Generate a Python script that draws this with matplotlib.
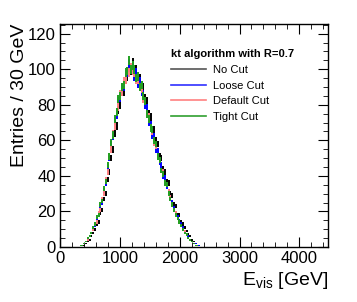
import numpy as np
import matplotlib
matplotlib.use('Agg')
import matplotlib.pyplot as plt
from matplotlib.lines import Line2D

plt.rcParams['font.family'] = ['Liberation Sans', 'DejaVu Sans']

# 30 GeV bins from 300 to 2400 GeV
bin_lo = 300
bin_w = 30

no_cut = [0, 0, 0, 1, 2, 3, 4, 6, 8, 10,
          13, 14, 19, 21, 27, 30, 38, 42, 50, 55,
          64, 68, 77, 80, 87, 87, 94, 96, 101, 99,
          104, 98, 100, 93, 95, 89, 90, 84, 82, 75,
          73, 66, 66, 60, 58, 51, 50, 44, 42, 37,
          36, 30, 29, 24, 23, 18, 18, 14, 13, 11,
          9, 7, 6, 4, 3, 2, 1, 1, 0, 0]
loose_cut = [0, 0, 1, 2, 3, 4, 6, 8, 10, 12,
             16, 18, 23, 25, 32, 36, 45, 50, 58, 62,
             71, 74, 82, 84, 90, 90, 97, 98, 103, 100,
             101, 96, 98, 92, 93, 87, 86, 80, 78, 70,
             69, 63, 62, 55, 54, 48, 46, 40, 39, 34,
             31, 28, 25, 22, 19, 17, 15, 13, 11, 9,
             7, 6, 4, 3, 2, 2, 1, 1, 0, 0]
default_cut = [0, 0, 1, 2, 3, 4, 6, 8, 10, 13,
               14, 19, 21, 27, 30, 38, 42, 51, 55, 64,
               68, 76, 79, 86, 87, 93, 94, 99, 98, 101,
               99, 98, 94, 94, 90, 89, 83, 82, 75, 73,
               67, 65, 59, 57, 51, 49, 43, 42, 36, 35,
               31, 28, 24, 21, 19, 16, 14, 12, 10, 9,
               7, 5, 4, 3, 2, 1, 1, 0, 0, 0]
tight_cut = [0, 1, 1, 2, 3, 5, 6, 8, 11, 13,
             17, 18, 24, 26, 33, 37, 46, 51, 59, 63,
             72, 76, 83, 85, 90, 91, 98, 99, 105, 100,
             102, 100, 95, 96, 90, 91, 85, 82, 75, 72,
             67, 66, 60, 58, 51, 49, 43, 41, 36, 35,
             30, 27, 24, 21, 18, 16, 14, 12, 10, 8,
             7, 5, 4, 3, 2, 1, 1, 0, 0, 0]

labels = ['No Cut', 'Loose Cut', 'Default Cut', 'Tight Cut']
colors = ['#000000', '#0000ff', '#ff7f7f', '#20a020']
legend_colors = ['#555555', '#3030ff', '#ff8080', '#30a030']

centers = bin_lo + bin_w * (np.arange(len(no_cut)) + 0.5)

fig = plt.figure(figsize=(3.57, 3.02), dpi=100)
ax = fig.add_axes([0.168, 0.182, 0.751, 0.739])

for vals, c in zip([no_cut, loose_cut, default_cut, tight_cut], colors):
    v = np.array(vals, dtype=float)
    m = v > 0
    ax.errorbar(centers[m], v[m], yerr=0.25 * np.sqrt(v[m]), fmt='none',
                ecolor=c, elinewidth=1.4, capsize=0)

ax.set_xlim(0, 4480)
ax.set_ylim(0, 125.5)
ax.set_xticks([0, 1000, 2000, 3000, 4000])
ax.set_yticks([0, 20, 40, 60, 80, 100, 120])
ax.xaxis.set_minor_locator(matplotlib.ticker.MultipleLocator(200))
ax.yaxis.set_minor_locator(matplotlib.ticker.MultipleLocator(5))
ax.tick_params(which='both', direction='in', top=True, right=True, labelsize=12)
ax.tick_params(which='major', length=7, pad=3)
ax.tick_params(which='minor', length=3.5)
for s in ax.spines.values():
    s.set_linewidth(1.0)

ax.set_ylabel('Entries / 30 GeV', fontsize=14, loc='top', labelpad=0)
ax.set_xlabel(r'E$_{\mathregular{vis}}$ [GeV]', fontsize=14, loc='right', labelpad=2.5)

handles = [Line2D([], [], color=c, lw=1.2) for c in legend_colors]
leg = ax.legend(handles, labels, title='kt algorithm with R=0.7', frameon=False,
                loc='upper left', bbox_to_anchor=(0.375, 0.93), fontsize=8,
                title_fontproperties={'weight': 'bold', 'size': 8},
                handlelength=3.2, handletextpad=0.6, labelspacing=0.5,
                alignment='left')

fig.savefig('out.png', dpi=100)
